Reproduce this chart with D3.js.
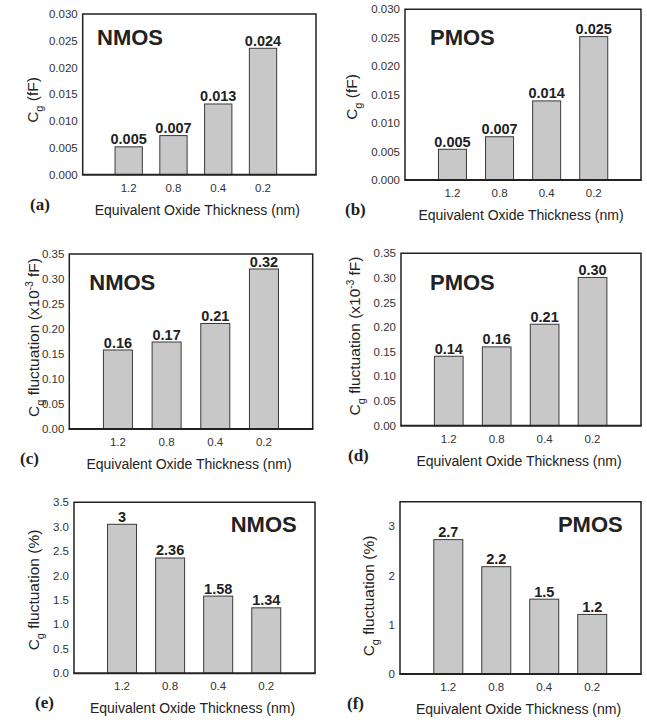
<!DOCTYPE html>
<html>
<head>
<meta charset="utf-8">
<title>Cg vs EOT</title>
<script src="https://d3js.org/d3.v7.min.js"></script>
<style>
  body { margin: 0; background: #fff; }
  svg { display: block; font-family: 'Liberation Sans', Arial, sans-serif; }
  .tick-label { font-size: 11.5px; fill: #333; }
  .axis-title { font-size: 14px; fill: #222; }
  .y-title { font-size: 15.5px; fill: #222; }
  .val { font-size: 14.5px; font-weight: bold; fill: #222; }
  .dev { font-size: 22px; font-weight: bold; fill: #222; }
  .panel-tag { font-family: 'Liberation Serif', 'Times New Roman', serif; font-size: 17px; font-weight: bold; fill: #222; }
</style>
</head>
<body>
<div id="chart"></div>
<script>
// categories (equivalent oxide thickness, nm)
const categories = ["1.2", "0.8", "0.4", "0.2"];

// (a) / (b) gate capacitance, fF
const cgNmos = [0.0052, 0.0073, 0.0132, 0.0236];
const cgNmosLabels = ["0.005", "0.007", "0.013", "0.024"];
const cgPmos = [0.0054, 0.0076, 0.0139, 0.0252];
const cgPmosLabels = ["0.005", "0.007", "0.014", "0.025"];

// (c) / (d) Cg fluctuation, x1e-3 fF
const flucNmos = [0.158, 0.174, 0.211, 0.320];
const flucNmosLabels = ["0.16", "0.17", "0.21", "0.32"];
const flucPmos = [0.141, 0.160, 0.206, 0.301];
const flucPmosLabels = ["0.14", "0.16", "0.21", "0.30"];

// (e) / (f) Cg fluctuation, %
const pctNmos = [3.05, 2.36, 1.58, 1.34];
const pctNmosLabels = ["3", "2.36", "1.58", "1.34"];
const pctPmos = [2.73, 2.18, 1.52, 1.21];
const pctPmosLabels = ["2.7", "2.2", "1.5", "1.2"];

// y ticks
const ticksCg = [0, 0.005, 0.010, 0.015, 0.020, 0.025, 0.030];
const ticksFluc = [0, 0.05, 0.10, 0.15, 0.20, 0.25, 0.30, 0.35];
const ticksPctN = [0, 0.5, 1.0, 1.5, 2.0, 2.5, 3.0, 3.5];
const ticksPctP = [0, 1, 2, 3];

const W = 647, H = 722;
const svg = d3.select('#chart').append('svg')
    .attr('width', W).attr('height', H);

const xTitle = "Equivalent Oxide Thickness (nm)";

const panels = [
  { tag: "(a)", tagX: 30, dev: "NMOS", devX: 97, devY: 45, devAnchor: "start",
    box: [82.7, 316, 14, 174.7], band: [106.3, 285.4], bw: 27.3,
    values: cgNmos, labels: cgNmosLabels, ymax: 0.03, ticks: ticksCg, fmt: ".3f",
    yTitle: "cg", ytX: 38, ytY: 100 },
  { tag: "(b)", tagX: 345, dev: "PMOS", devX: 430, devY: 45, devAnchor: "start",
    box: [405, 641, 9.3, 180], band: [428.9, 617.3], bw: 28,
    values: cgPmos, labels: cgPmosLabels, ymax: 0.03, ticks: ticksCg, fmt: ".3f",
    yTitle: "cg", ytX: 357, ytY: 97 },
  { tag: "(c)", tagX: 20, dev: "NMOS", devX: 89.3, devY: 290, devAnchor: "start",
    box: [69.3, 312.7, 254, 429], band: [93.6, 288.3], bw: 29,
    values: flucNmos, labels: flucNmosLabels, ymax: 0.35, ticks: ticksFluc, fmt: ".2f",
    yTitle: "fluc", ytX: 38.5, ytY: 337.5 },
  { tag: "(d)", tagX: 348, dev: "PMOS", devX: 430, devY: 290, devAnchor: "start",
    box: [401, 641, 253.3, 425.7], band: [424.8, 616.5], bw: 28.7,
    values: flucPmos, labels: flucPmosLabels, ymax: 0.35, ticks: ticksFluc, fmt: ".2f",
    yTitle: "fluc", ytX: 359.5, ytY: 336 },
  { tag: "(e)", tagX: 35, dev: "NMOS", devX: 296.7, devY: 532.3, devAnchor: "end",
    box: [74, 315, 502.3, 673.3], band: [98, 290.3], bw: 29,
    values: pctNmos, labels: pctNmosLabels, ymax: 3.5, ticks: ticksPctN, fmt: ".1f",
    yTitle: "pct", ytX: 39, ytY: 590 },
  { tag: "(f)", tagX: 347, dev: "PMOS", devX: 622.7, devY: 532.3, devAnchor: "end",
    box: [400, 641, 501.7, 674], band: [424.3, 616.2], bw: 29,
    values: pctPmos, labels: pctPmosLabels, ymax: 3.5, ticks: ticksPctP, fmt: "d",
    yTitle: "pct", ytX: 374, ytY: 596 }
];

panels.forEach(drawPanel);

function drawPanel(p) {
  const [left, right, top, bottom] = p.box;
  const g = svg.append('g');

  const step = (p.band[1] - p.band[0]) / 4;
  const pin = 1 - p.bw / step;
  const x = d3.scaleBand()
      .domain(categories)
      .range(p.band)
      .paddingInner(pin)
      .paddingOuter(pin / 2);

  const y = d3.scaleLinear()
      .domain([0, p.ymax])
      .range([bottom, top]);

  // bars
  g.selectAll('rect.bar')
    .data(p.values)
    .enter().append('rect')
      .attr('class', 'bar')
      .attr('x', (d, i) => x(categories[i]))
      .attr('y', d => y(d))
      .attr('width', x.bandwidth())
      .attr('height', d => y(0) - y(d))
      .attr('fill', '#c8c8c8')
      .attr('stroke', '#3a3a3a')
      .attr('stroke-width', 1);

  // value labels
  g.selectAll('text.val')
    .data(p.values)
    .enter().append('text')
      .attr('class', 'val')
      .attr('x', (d, i) => x(categories[i]) + x.bandwidth() / 2)
      .attr('y', d => y(d) - 2.5)
      .attr('text-anchor', 'middle')
      .text((d, i) => p.labels[i]);

  // frame (left, top, right) + heavier baseline
  g.append('path')
    .attr('d', `M${left},${bottom}V${top}H${right}V${bottom}`)
    .attr('fill', 'none')
    .attr('stroke', '#222')
    .attr('stroke-width', 1.5);
  g.append('line')
    .attr('x1', left - 0.75).attr('x2', right + 0.75)
    .attr('y1', bottom).attr('y2', bottom)
    .attr('stroke', '#222')
    .attr('stroke-width', 2);

  // y tick labels (no tick marks)
  const fmt = d3.format(p.fmt);
  g.selectAll('text.ytick')
    .data(p.ticks)
    .enter().append('text')
      .attr('class', 'tick-label')
      .attr('x', left - 5)
      .attr('y', d => y(d))
      .attr('dy', '0.35em')
      .attr('text-anchor', 'end')
      .text(d => fmt(d));

  // x tick labels
  g.selectAll('text.xtick')
    .data(categories)
    .enter().append('text')
      .attr('class', 'tick-label')
      .attr('x', d => x(d) + x.bandwidth() / 2)
      .attr('y', bottom + 17)
      .attr('text-anchor', 'middle')
      .text(d => d);

  // x axis title
  g.append('text')
    .attr('class', 'axis-title')
    .attr('x', (left + right) / 2 - 2)
    .attr('y', bottom + 40)
    .attr('text-anchor', 'middle')
    .text(xTitle);

  // y axis title
  const yt = g.append('text')
    .attr('class', 'y-title')
    .attr('text-anchor', 'middle')
    .attr('transform', `translate(${p.ytX},${p.ytY}) rotate(-90)`);
  yt.append('tspan').text('C');
  yt.append('tspan').attr('dy', 5).attr('font-size', '11px').text('g');
  if (p.yTitle === 'cg') {
    yt.append('tspan').attr('dy', -5).text('\u00a0(fF)');
  } else if (p.yTitle === 'fluc') {
    yt.append('tspan').attr('dy', -5).text(' fluctuation (x10');
    yt.append('tspan').attr('dy', -6).attr('font-size', '10px').text('-3');
    yt.append('tspan').attr('dy', 6).text(' fF)');
  } else {
    yt.append('tspan').attr('dy', -5).text(' fluctuation (%)');
  }

  // device label
  g.append('text')
    .attr('class', 'dev')
    .attr('x', p.devX)
    .attr('y', p.devY)
    .attr('text-anchor', p.devAnchor)
    .text(p.dev);

  // panel tag
  g.append('text')
    .attr('class', 'panel-tag')
    .attr('x', p.tagX)
    .attr('y', bottom + 35)
    .text(p.tag);
}
</script>
</body>
</html>
